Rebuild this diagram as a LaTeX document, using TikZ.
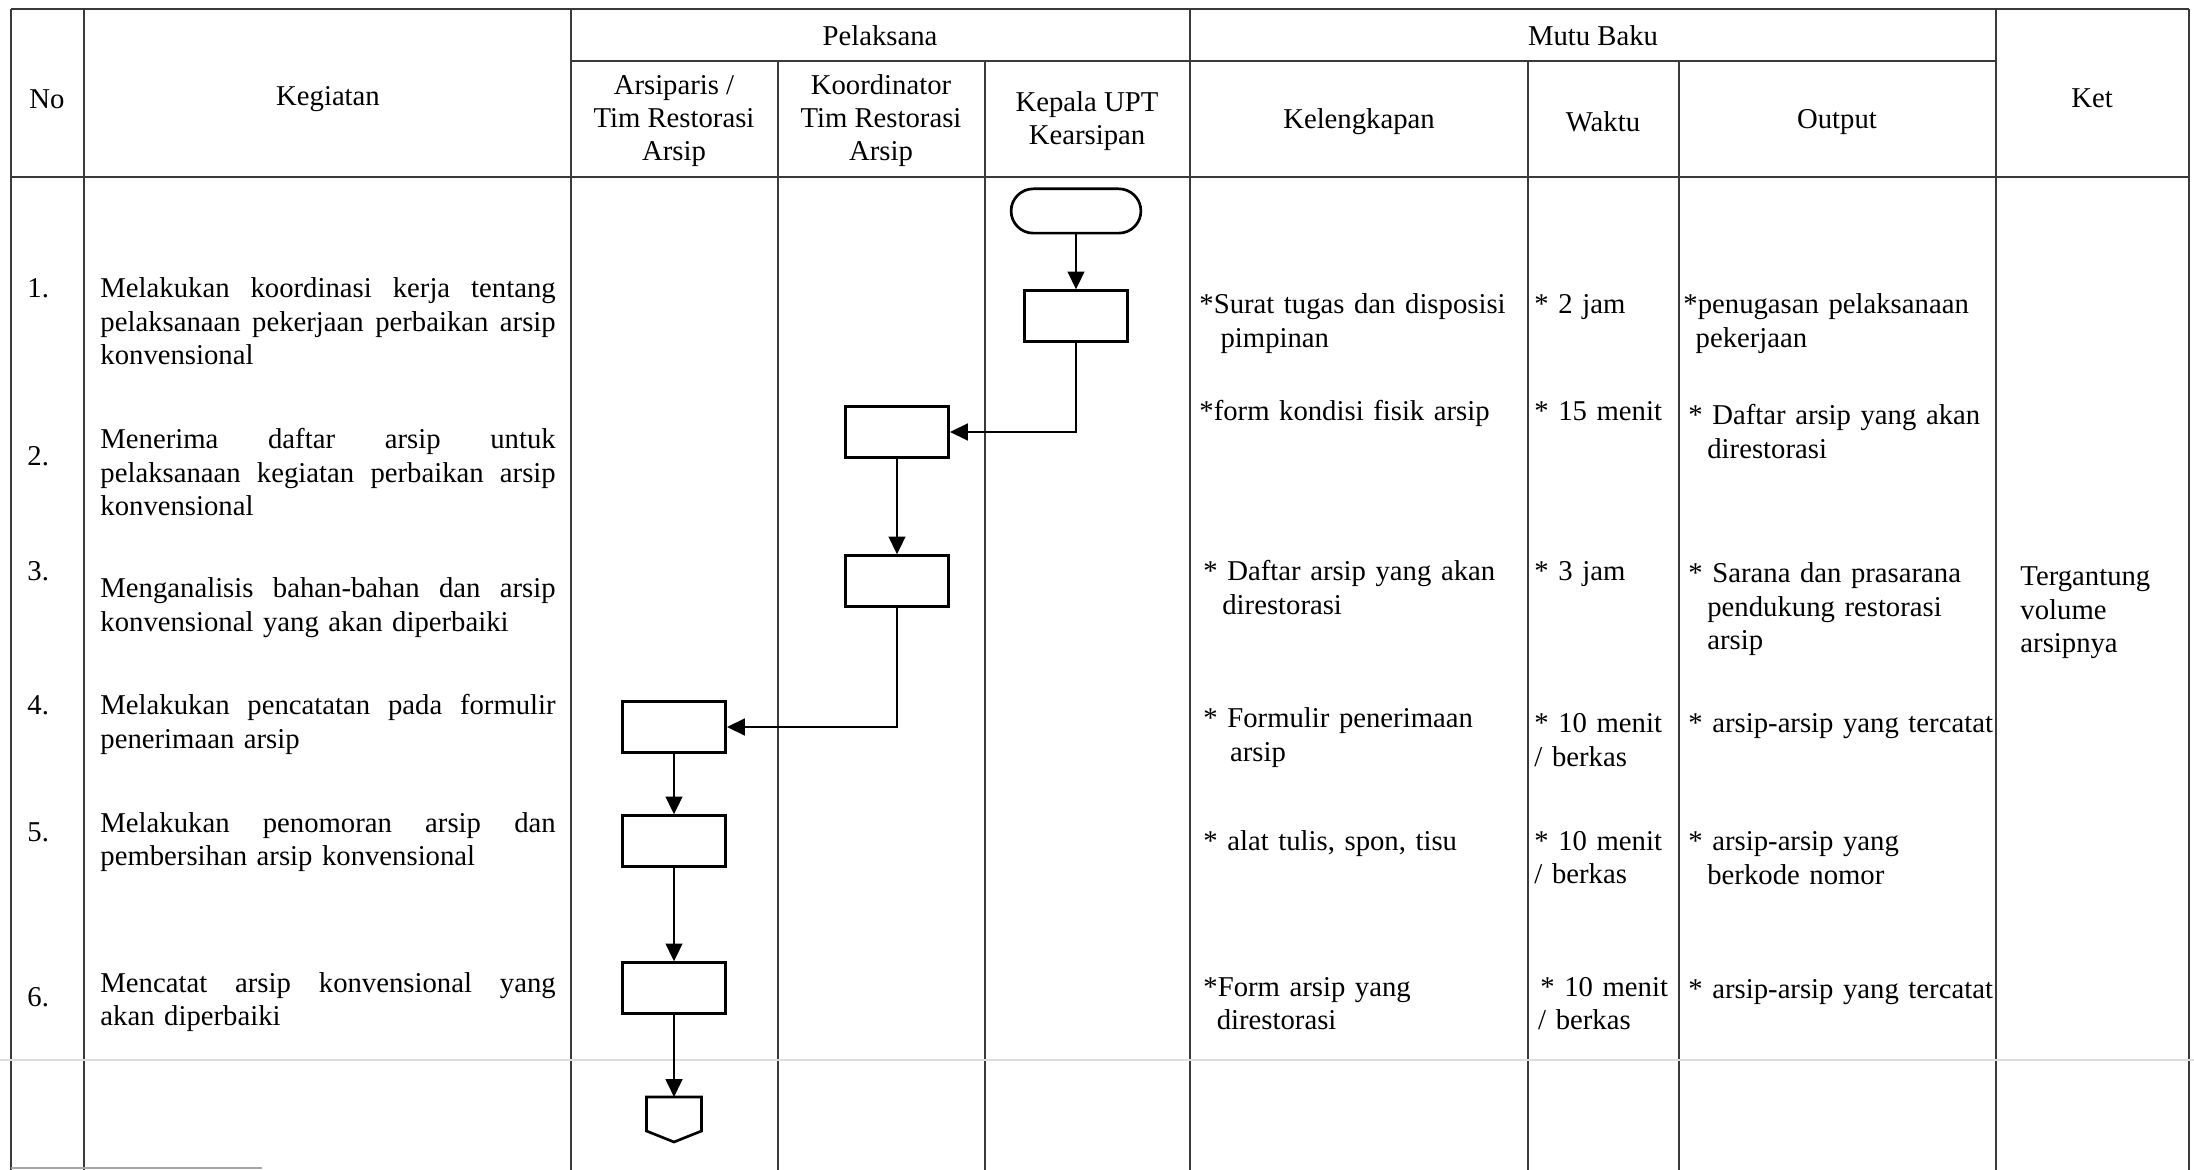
\documentclass[tikz,border=0pt]{standalone}
\usepackage{fontspec}
\setmainfont{Liberation Serif}
\usetikzlibrary{arrows.meta,shapes.misc}
\definecolor{grline}{HTML}{3A3A3A}
\definecolor{scanfaint}{HTML}{DDDDDD}

\newlength\kegw
\setlength\kegw{7.19cm}
% one justified line of the Kegiatan column
\newcommand\kjust[1]{\leavevmode\hbox to\kegw{\spaceskip=0.25em plus 1fil\relax #1}}

\tikzset{
  tbl/.style={grline,line width=0.6pt},
  proc/.style={draw,line width=1.2pt,minimum width=1.63cm,minimum height=0.80cm,inner sep=0pt},
  term/.style={draw,rounded rectangle,line width=1.2pt,minimum width=2.05cm,minimum height=0.70cm,inner sep=0pt},
  flow/.style={line width=1pt,-{Triangle[length=8pt,width=7.5pt]}},
  cell/.style={font=\fontsize{12.9}{14.85}\selectfont,inner sep=0pt,anchor=base west,align=left,text width=#1},
  cell/.default=5cm,
  head/.style={font=\fontsize{12.9}{14.85}\selectfont,inner sep=0pt,align=center},
}

\begin{document}
\begin{tikzpicture}[x=0.0158cm,y=-0.0158cm]

  \useasboundingbox (0,0) rectangle (2194,1170);

  % =====================================================================
  % TABLE GRID (units are pixels of the scanned page, y grows downward)
  % =====================================================================
  \draw[tbl] (11,9) -- (2189,9);
  \draw[tbl] (571,61) -- (1996,61);
  \draw[tbl] (11,177) -- (2189,177);
  \foreach \x in {11,84,571,1190,1996,2189}
    \draw[tbl] (\x,9) -- (\x,1170);
  \foreach \x in {778,985,1528,1679}
    \draw[tbl] (\x,61) -- (\x,1170);

  % scan marks
  \draw[scanfaint,line width=0.5pt] (0,1060) -- (2194,1060);
  \draw[grline!45,line width=0.6pt] (11,1168) -- (262,1168);

  % =====================================================================
  % HEADER
  % =====================================================================
  \node[head] (hno)     at (47,99)    {No};
  \node[head] (hkeg)    at (328,99)   {Kegiatan};
  \node[head] (hpel)    at (880,36)   {Pelaksana};
  \node[head] (hmutu)   at (1593,36)  {Mutu Baku};
  \node[head] (harsip)  at (674,121)  {Arsiparis /\\Tim Restorasi\\Arsip};
  \node[head] (hkoord)  at (881,121)  {Koordinator\\Tim Restorasi\\Arsip};
  \node[head] (hkepala) at (1087,121) {Kepala UPT\\Kearsipan};
  \node[head] (hkel)    at (1359,122) {Kelengkapan};
  \node[head] (hwaktu)  at (1603,122) {Waktu};
  \node[head] (hout)    at (1837,122) {Output};
  \node[head] (hket)    at (2092,98)  {Ket};

  % =====================================================================
  % NO + KEGIATAN
  % =====================================================================
  \foreach \n/\y in {1/298, 2/466, 3/581, 4/715, 5/841, 6/1006}
    \node[cell=1cm] (no\n) at (27,\y) {\n.};

  \node[cell=7.19cm] (keg1) at (100,298)
        {\kjust{Melakukan koordinasi kerja tentang}\\
         \kjust{pelaksanaan pekerjaan perbaikan arsip}\\konvensional};
  \node[cell=7.19cm] (keg2) at (100,449)
        {\kjust{Menerima daftar arsip untuk}\\
         \kjust{pelaksanaan kegiatan perbaikan arsip}\\konvensional};
  \node[cell=7.19cm] (keg3) at (100,598)
        {\kjust{Menganalisis bahan-bahan dan arsip}\\
         konvensional yang akan diperbaiki};
  \node[cell=7.19cm] (keg4) at (100,715)
        {\kjust{Melakukan pencatatan pada formulir}\\penerimaan arsip};
  \node[cell=7.19cm] (keg5) at (100,832)
        {\kjust{Melakukan penomoran arsip dan}\\
         pembersihan arsip konvensional};
  \node[cell=7.19cm] (keg6) at (100,992)
        {\kjust{Mencatat arsip konvensional yang}\\akan diperbaiki};

  % =====================================================================
  % FLOW (Arsiparis x=674, Koordinator x=897, Kepala x=1076)
  % =====================================================================
  \node[term] (start) at (1076,211) {};
  \node[proc] (k1) at (1076,316) {};
  \node[proc] (c1) at (897,432) {};
  \node[proc] (c2) at (897,581) {};
  \node[proc] (a1) at (674,727) {};
  \node[proc] (a2) at (674,841) {};
  \node[proc] (a3) at (674,988) {};
  \coordinate (endc) at (674,1097);

  % off-page connector
  \draw[line width=1.2pt,line join=miter] (endc) ++(-27.5,0) -- ++(55,0) -- ++(0,34)
        -- ++(-27.5,11) -- ++(-27.5,-11) -- cycle;

  \draw[flow] (start) -- (k1);
  \draw[flow] (k1.south) |- (c1.east);
  \draw[flow] (c1) -- (c2);
  \draw[flow] (c2.south) |- (a1.east);
  \draw[flow] (a1) -- (a2);
  \draw[flow] (a2) -- (a3);
  \draw[flow] (a3) -- (endc);

  % =====================================================================
  % MUTU BAKU: Kelengkapan / Waktu / Output
  % =====================================================================
  \node[cell=5.2cm] (kel1) at (1199,314) {*Surat tugas dan disposisi\\\hspace*{9.5pt}pimpinan};
  \node[cell=5.2cm] (kel2) at (1199,421) {*form kondisi fisik arsip};
  \node[cell=5.2cm] (kel3) at (1203,581) {* Daftar arsip yang akan\\\hspace*{8.5pt}direstorasi};
  \node[cell=5.2cm] (kel4) at (1203,728) {* Formulir penerimaan\\\hspace*{12pt}arsip};
  \node[cell=5.2cm] (kel5) at (1203,850) {* alat tulis, spon, tisu};
  \node[cell=5.2cm] (kel6) at (1203,996) {*Form arsip yang\\\hspace*{6pt}direstorasi};

  \node[cell=2.3cm] (wkt1) at (1534,314) {* 2 jam};
  \node[cell=2.3cm] (wkt2) at (1534,421) {* 15 menit};
  \node[cell=2.3cm] (wkt3) at (1534,581) {* 3 jam};
  \node[cell=2.3cm] (wkt4) at (1534,733) {* 10 menit\\/ berkas};
  \node[cell=2.3cm] (wkt5) at (1534,850) {* 10 menit\\/ berkas};
  \node[cell=2.3cm] (wkt6) at (1540,996) {* 10 menit\\\hspace*{-1pt}/ berkas};

  \node[cell=4.9cm] (out1) at (1683,314) {*penugasan pelaksanaan\\\hspace*{5.5pt}pekerjaan};
  \node[cell=4.9cm] (out2) at (1688,425) {* Daftar arsip yang akan\\\hspace*{8.5pt}direstorasi};
  \node[cell=4.9cm] (out3) at (1688,583)
        {* Sarana dan prasarana\\\hspace*{8.5pt}pendukung restorasi\\\hspace*{8.5pt}arsip};
  \node[cell=4.9cm] (out4) at (1688,733) {* arsip-arsip yang tercatat};
  \node[cell=4.9cm] (out5) at (1688,851) {* arsip-arsip yang\\\hspace*{8.5pt}berkode nomor};
  \node[cell=4.9cm] (out6) at (1688,998) {* arsip-arsip yang tercatat};

  % Ket
  \node[cell=2.6cm] (ket) at (2020,586) {Tergantung\\volume\\arsipnya};

\end{tikzpicture}
\end{document}
